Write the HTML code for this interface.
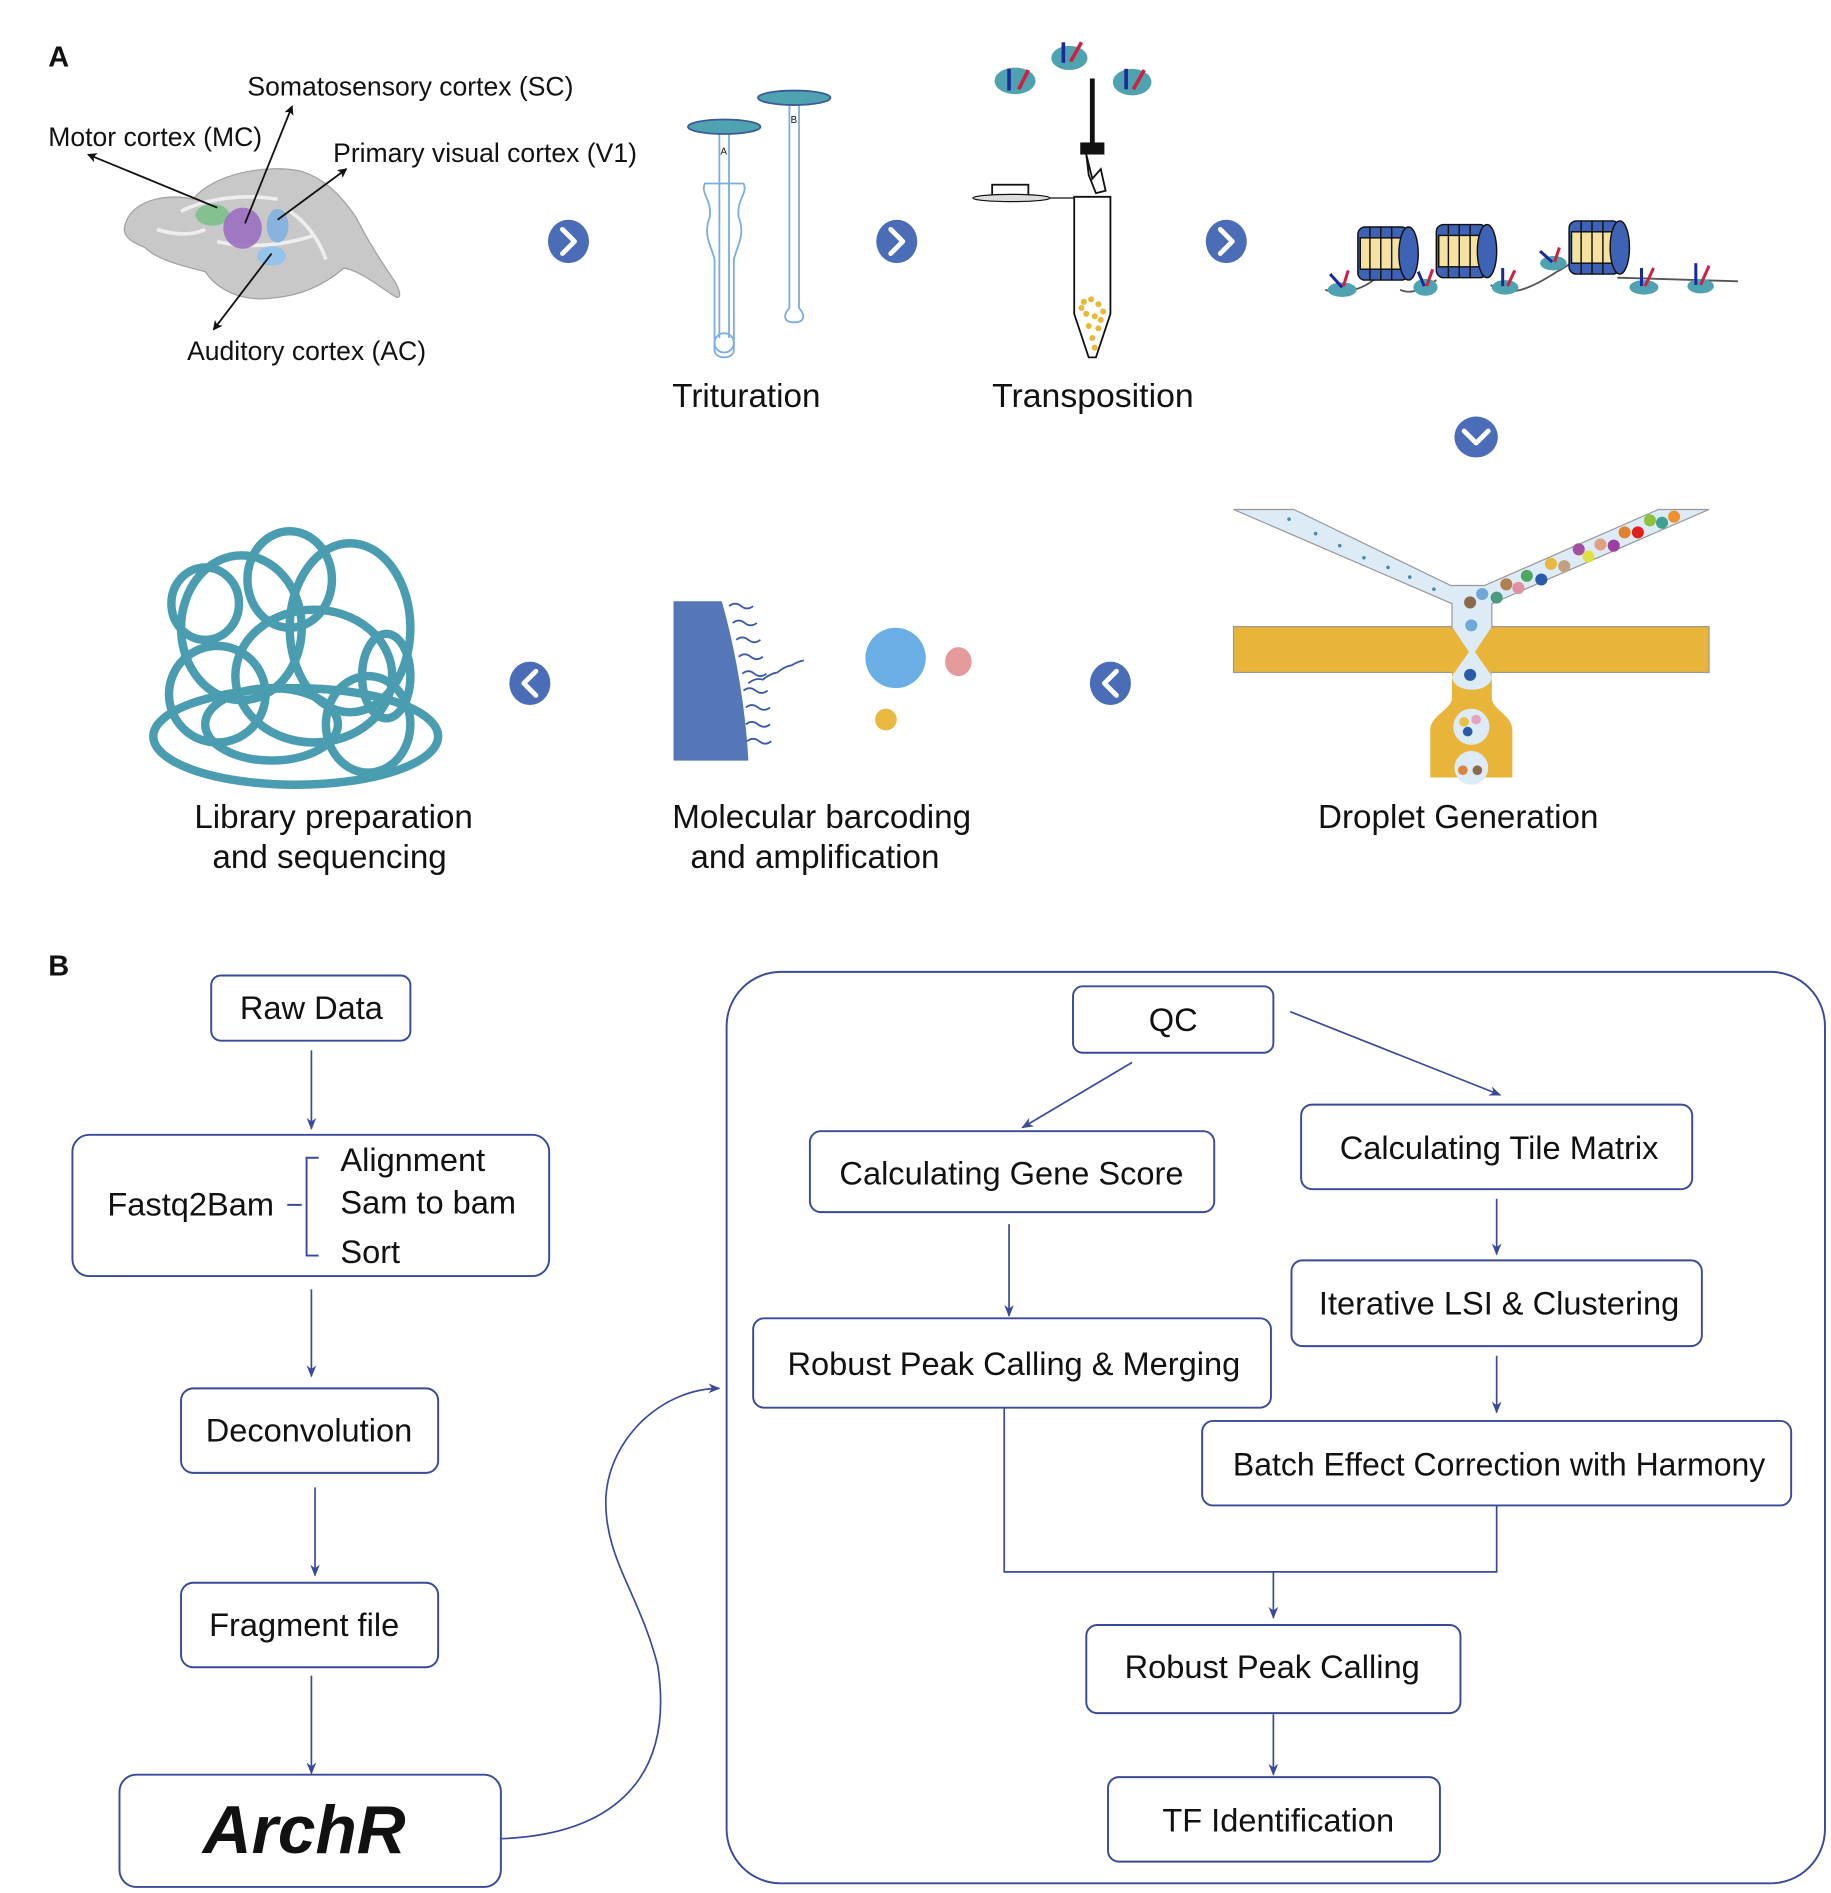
<!DOCTYPE html>
<html><head><meta charset="utf-8"><style>
html,body{margin:0;padding:0;background:#fff;}
svg{display:block;}
text{font-family:"Liberation Sans",Arial,sans-serif;fill:#111;}
</style></head><body>
<svg width="1831" height="1893" viewBox="0 0 1517 1568" preserveAspectRatio="none" xmlns="http://www.w3.org/2000/svg">
<defs>
<marker id="ab" markerWidth="8" markerHeight="8" refX="7" refY="4" orient="auto" markerUnits="userSpaceOnUse"><path d="M0,0 L8,4 L0,8 L2,4 z" fill="#111"/></marker>
<marker id="bl" markerWidth="10" markerHeight="8" refX="9" refY="4" orient="auto" markerUnits="userSpaceOnUse"><path d="M0,0 L10,4 L0,8 L3,4 z" fill="#3a4a9a"/></marker>
</defs>

<!-- ===== PART A ===== -->
<text x="40" y="55" font-size="24" font-weight="bold">A</text>

<path d="M104,185 C110,165 140,160 160,165 C175,145 220,135 250,142 C270,148 285,165 295,180 C305,200 315,215 325,230 C332,240 333,248 328,246 C315,238 300,225 285,222 C270,235 250,245 225,247 C200,250 180,240 170,225 C150,220 130,215 120,205 C108,200 100,195 104,185 Z" fill="#c8c8c8" stroke="#a0a0a0" stroke-width="1"/>
<path d="M150,175 C170,165 200,160 230,165 M180,200 C200,205 230,205 260,195 M240,175 C255,185 265,200 270,215 M130,190 C145,195 160,195 170,190" stroke="#eee" stroke-width="3" fill="none"/>
<ellipse cx="176" cy="178" rx="14" ry="9" fill="#7cbf8a" opacity="0.9"/>
<ellipse cx="201" cy="189" rx="16" ry="17" fill="#9b6fc0" opacity="0.9"/>
<ellipse cx="230" cy="187" rx="9" ry="14" fill="#7fb0e0" opacity="0.9"/>
<ellipse cx="225" cy="212" rx="12" ry="8" fill="#8ec3ee" opacity="0.9"/>
<g stroke="#111" stroke-width="1.5" fill="none">
<line x1="180" y1="172" x2="73" y2="128" marker-end="url(#ab)"/>
<line x1="203" y1="185" x2="242" y2="88" marker-end="url(#ab)"/>
<line x1="230" y1="182" x2="287" y2="140" marker-end="url(#ab)"/>
<line x1="225" y1="210" x2="177" y2="273" marker-end="url(#ab)"/>
</g>
<text x="205" y="79" font-size="22">Somatosensory cortex (SC)</text>
<text x="40" y="121" font-size="22">Motor cortex (MC)</text>
<text x="276" y="134" font-size="22">Primary visual cortex (V1)</text>
<text x="155" y="298" font-size="22">Auditory cortex (AC)</text>

<g fill="#4b6cb7">
<ellipse cx="471" cy="200" rx="17" ry="18"/><ellipse cx="743" cy="200" rx="17" ry="18"/><ellipse cx="1016" cy="200" rx="17" ry="18"/>
<ellipse cx="1223" cy="362" rx="18" ry="17"/><ellipse cx="439" cy="566" rx="17" ry="18"/><ellipse cx="920" cy="566" rx="17" ry="18"/>
</g>
<g stroke="#fff" stroke-width="4" fill="none" stroke-linecap="round" stroke-linejoin="round">
<path d="M466,190 L476,200 L466,210"/><path d="M738,190 L748,200 L738,210"/><path d="M1011,190 L1021,200 L1011,210"/>
<path d="M1213,357 L1223,367 L1233,357"/><path d="M444,556 L434,566 L444,576"/><path d="M925,556 L915,566 L925,576"/>
</g>

<g fill="none" stroke="#7aaee0" stroke-width="1.5">
<path d="M596,110 L596,280 M604,110 L604,280"/>
<path d="M584,152 C580,160 590,165 588,180 C582,195 590,205 592,215 L592,290 C592,298 608,298 608,290 L608,215 C610,205 618,195 612,180 C610,165 620,160 616,152 Z"/>
<ellipse cx="600" cy="284" rx="8" ry="8"/>
<path d="M654,85 L654,255 C648,262 650,267 658,267 C666,267 668,262 662,255 L662,85"/>
</g>
<ellipse cx="600" cy="105" rx="30" ry="6" fill="#4fa3b0" stroke="#3a5a9a" stroke-width="1.5"/>
<ellipse cx="658" cy="81" rx="30" ry="6" fill="#4fa3b0" stroke="#3a5a9a" stroke-width="1.5"/>
<text x="597" y="128" font-size="8" fill="#666">A</text><text x="655" y="102" font-size="8" fill="#666">B</text>
<text x="557" y="337" font-size="27.5">Trituration</text>

<g>
<ellipse cx="841" cy="67" rx="17" ry="11" fill="#4fa3b0"/><ellipse cx="886" cy="48" rx="15" ry="10" fill="#4fa3b0"/><ellipse cx="938" cy="68" rx="16" ry="11" fill="#4fa3b0"/>
<g stroke-width="3"><line x1="836" y1="57" x2="836" y2="75" stroke="#1a2a9a"/><line x1="844" y1="74" x2="852" y2="58" stroke="#d02040"/>
<line x1="881" y1="35" x2="881" y2="52" stroke="#1a2a9a"/><line x1="887" y1="51" x2="896" y2="35" stroke="#d02040"/>
<line x1="933" y1="57" x2="933" y2="74" stroke="#1a2a9a"/><line x1="939" y1="74" x2="948" y2="58" stroke="#d02040"/></g>
<line x1="905" y1="65" x2="905" y2="118" stroke="#111" stroke-width="4"/>
<rect x="895" y="118" width="20" height="10" fill="#111"/>
<path d="M900,128 L905,148 L912,140 L916,158 L908,160 L902,145 Z" fill="#fff" stroke="#111" stroke-width="1.5"/>
<rect x="822" y="153" width="30" height="10" fill="#fff" stroke="#111" stroke-width="1.5"/>
<ellipse cx="838" cy="164" rx="32" ry="3" fill="#ddd" stroke="#111"/>
<line x1="870" y1="164" x2="890" y2="164" stroke="#111"/>
<path d="M890,163 L920,163 L920,260 L908,296 L902,296 L890,260 Z" fill="#fff" stroke="#111" stroke-width="1.5"/>
<g fill="#e8b838">
<circle cx="898" cy="250" r="2.5"/><circle cx="904" cy="248" r="2.5"/><circle cx="910" cy="252" r="2.5"/><circle cx="914" cy="258" r="2.5"/><circle cx="900" cy="260" r="2.5"/><circle cx="907" cy="262" r="2.5"/><circle cx="902" cy="270" r="2.5"/><circle cx="910" cy="272" r="2.5"/><circle cx="905" cy="280" r="2.5"/><circle cx="907" cy="288" r="2.5"/><circle cx="896" cy="255" r="2.5"/><circle cx="912" cy="265" r="2.5"/>
</g>
</g>
<text x="822" y="337" font-size="28">Transposition</text>

<path d="M1098,240 C1110,245 1130,240 1140,230 M1160,240 C1170,245 1180,238 1190,232 M1235,236 C1250,248 1270,238 1290,225 C1300,220 1305,215 1310,210 M1340,230 L1440,233" stroke="#555" stroke-width="1.5" fill="none"/>
<g stroke="#111" stroke-width="1.2">
<g transform="translate(1125,182)"><rect x="0" y="6" width="42" height="44" rx="6" fill="#3e62b5"/><rect x="2" y="15" width="38" height="26" fill="#f5e2a0"/><ellipse cx="42" cy="28" rx="8" ry="22" fill="#3e62b5"/><path d="M10,6 L10,50 M19,6 L19,50 M28,6 L28,50" fill="none"/></g>
<g transform="translate(1190,180)"><rect x="0" y="6" width="42" height="44" rx="6" fill="#3e62b5"/><rect x="2" y="15" width="38" height="26" fill="#f5e2a0"/><ellipse cx="42" cy="28" rx="8" ry="22" fill="#3e62b5"/><path d="M10,6 L10,50 M19,6 L19,50 M28,6 L28,50" fill="none"/></g>
<g transform="translate(1300,177)"><rect x="0" y="6" width="42" height="44" rx="6" fill="#3e62b5"/><rect x="2" y="15" width="38" height="26" fill="#f5e2a0"/><ellipse cx="42" cy="28" rx="8" ry="22" fill="#3e62b5"/><path d="M10,6 L10,50 M19,6 L19,50 M28,6 L28,50" fill="none"/></g>
</g>
<g fill="#4fa3b0">
<ellipse cx="1112" cy="240" rx="12" ry="6"/><ellipse cx="1181" cy="238" rx="10" ry="7"/><ellipse cx="1247" cy="238" rx="11" ry="6"/><ellipse cx="1287" cy="218" rx="11" ry="6"/><ellipse cx="1362" cy="238" rx="12" ry="6"/><ellipse cx="1409" cy="237" rx="11" ry="6"/>
</g>
<g stroke-width="2.5">
<line x1="1102" y1="227" x2="1112" y2="238" stroke="#1a2a9a"/><line x1="1113" y1="237" x2="1117" y2="224" stroke="#d02040"/>
<line x1="1175" y1="225" x2="1180" y2="237" stroke="#1a2a9a"/><line x1="1182" y1="237" x2="1187" y2="223" stroke="#d02040"/>
<line x1="1245" y1="222" x2="1245" y2="237" stroke="#1a2a9a"/><line x1="1249" y1="237" x2="1255" y2="224" stroke="#d02040"/>
<line x1="1276" y1="208" x2="1286" y2="217" stroke="#1a2a9a"/><line x1="1288" y1="217" x2="1292" y2="205" stroke="#d02040"/>
<line x1="1360" y1="222" x2="1360" y2="237" stroke="#1a2a9a"/><line x1="1363" y1="237" x2="1370" y2="222" stroke="#d02040"/>
<line x1="1405" y1="218" x2="1405" y2="236" stroke="#1a2a9a"/><line x1="1409" y1="236" x2="1416" y2="220" stroke="#d02040"/>
</g>

<!-- droplet generation -->
<rect x="1022" y="519" width="394" height="38" fill="#e8b43a" stroke="#999" stroke-width="1"/>
<path d="M1203,556 L1236,556 L1236,578 C1236,588 1253,592 1253,605 L1253,644 L1185,644 L1185,605 C1185,592 1203,588 1203,578 Z" fill="#e8b43a"/>
<path d="M1022,422 L1072,422 L1202,485 L1230,485 L1374,422 L1416,422 L1236,500 L1236,520 L1203,520 L1203,500 Z" fill="#dcebf5" stroke="#999" stroke-width="1"/>
<path d="M1203,519 L1236,519 L1222,540 L1236,560 C1236,575 1203,575 1203,560 L1217,540 Z" fill="#dcebf5"/>
<circle cx="1219" cy="602" r="15" fill="#dcebf5"/><circle cx="1219" cy="636" r="14" fill="#dcebf5"/>
<g>
<circle cx="1218" cy="499" r="5" fill="#8b6a4a"/><circle cx="1219" cy="518" r="5" fill="#6fa8d8"/><circle cx="1218" cy="559" r="5" fill="#2a5aa8"/>
<circle cx="1213" cy="598" r="4" fill="#e8c040"/><circle cx="1223" cy="596" r="4" fill="#e8a0c0"/><circle cx="1216" cy="606" r="4" fill="#2a5aa8"/>
<circle cx="1212" cy="638" r="4" fill="#e08040"/><circle cx="1224" cy="638" r="4" fill="#8b6a4a"/>
<circle cx="1228" cy="492" r="5" fill="#6fa8d8"/><circle cx="1240" cy="495" r="5" fill="#4a9a80"/><circle cx="1248" cy="484" r="5" fill="#b08050"/><circle cx="1258" cy="487" r="5" fill="#e090a0"/><circle cx="1265" cy="477" r="5" fill="#50a860"/><circle cx="1277" cy="480" r="5" fill="#2a5aa8"/><circle cx="1285" cy="467" r="5" fill="#e8b840"/><circle cx="1296" cy="469" r="5" fill="#c0a080"/><circle cx="1308" cy="455" r="5" fill="#a050a0"/><circle cx="1316" cy="461" r="5" fill="#e0e040"/><circle cx="1326" cy="451" r="5" fill="#e0a080"/><circle cx="1337" cy="452" r="5" fill="#9a40a0"/><circle cx="1346" cy="441" r="5" fill="#e08030"/><circle cx="1357" cy="441" r="5" fill="#e02020"/><circle cx="1367" cy="431" r="5" fill="#90c040"/><circle cx="1377" cy="433" r="5" fill="#40a090"/><circle cx="1387" cy="428" r="5" fill="#f09030"/>
<g fill="#4a8ab0"><circle cx="1068" cy="430" r="1.5"/><circle cx="1090" cy="442" r="1.5"/><circle cx="1110" cy="452" r="1.5"/><circle cx="1130" cy="462" r="1.5"/><circle cx="1150" cy="470" r="1.5"/><circle cx="1168" cy="478" r="1.5"/><circle cx="1188" cy="488" r="1.5"/></g>
</g>
<text x="1092" y="686" font-size="27.5">Droplet Generation</text>

<path d="M558,498 L598,498 C610,540 618,590 620,630 L558,630 Z" fill="#5577b8"/>
<g stroke="#3a5aa8" stroke-width="1.5" fill="none">
<path d="M604,502 q5,-4 10,0 q5,4 10,0"/><path d="M607,516 q5,-4 10,0 q5,4 10,0"/><path d="M610,530 q5,-4 10,0 q5,4 10,0"/><path d="M612,544 q5,-4 10,0 q5,4 10,0"/><path d="M615,558 q5,-4 10,0 q5,4 10,0"/><path d="M616,572 q5,-4 10,0 q5,4 10,0"/><path d="M618,586 q5,-4 10,0 q5,4 10,0"/><path d="M618,600 q5,-4 10,0 q5,4 10,0"/><path d="M619,614 q5,-4 10,0 q5,4 10,0"/>
<path d="M620,566 q6,-5 12,-3 q6,-5 12,-6 q6,-5 12,-6 q5,-3 10,-4"/>
</g>
<circle cx="742" cy="545" r="25" fill="#6aaee6"/>
<ellipse cx="794" cy="548" rx="11" ry="12" fill="#e08a8a" opacity="0.85"/>
<circle cx="734" cy="596" r="9" fill="#e8b840"/>
<text x="557" y="686" font-size="27.5">Molecular barcoding</text>
<text x="572" y="719" font-size="27.5">and amplification</text>

<g stroke="#4a9db0" stroke-width="7" fill="none">
<ellipse cx="245" cy="610" rx="118" ry="40"/>
<ellipse cx="240" cy="480" rx="35" ry="40"/>
<ellipse cx="200" cy="520" rx="50" ry="60"/>
<ellipse cx="290" cy="520" rx="50" ry="70"/>
<ellipse cx="180" cy="575" rx="40" ry="40"/>
<ellipse cx="260" cy="560" rx="65" ry="55"/>
<ellipse cx="305" cy="600" rx="35" ry="40"/>
<ellipse cx="225" cy="600" rx="55" ry="30"/>
<ellipse cx="170" cy="500" rx="28" ry="30"/>
<ellipse cx="320" cy="560" rx="20" ry="35"/>
</g>
<text x="161" y="686" font-size="27.5">Library preparation</text>
<text x="176" y="719" font-size="27.5">and sequencing</text>

<!-- ===== PART B ===== -->
<text x="40" y="808" font-size="24" font-weight="bold">B</text>
<g fill="none" stroke="#3a4a9a" stroke-width="1.6">
<rect x="175" y="808" width="165" height="54" rx="8"/>
<rect x="60" y="940" width="395" height="117" rx="14"/>
<rect x="150" y="1150" width="213" height="70" rx="10"/>
<rect x="150" y="1311" width="213" height="70" rx="10"/>
<rect x="99" y="1470" width="316" height="93" rx="14"/>
<rect x="602" y="805" width="910" height="755" rx="45"/>
<rect x="889" y="817" width="166" height="55" rx="8"/>
<rect x="671" y="937" width="335" height="67" rx="9"/>
<rect x="1078" y="915" width="324" height="70" rx="9"/>
<rect x="624" y="1092" width="429" height="74" rx="9"/>
<rect x="1070" y="1044" width="340" height="71" rx="9"/>
<rect x="996" y="1177" width="488" height="70" rx="9"/>
<rect x="900" y="1346" width="310" height="73" rx="9"/>
<rect x="918" y="1472" width="275" height="70" rx="9"/>
<path d="M238,998 L250,998 M264,959 L254,959 L254,1040 L264,1040"/>
</g>
<g stroke="#3a4a9a" stroke-width="1.4" fill="none" marker-end="url(#bl)">
<line x1="258" y1="870" x2="258" y2="935"/>
<line x1="258" y1="1068" x2="258" y2="1140"/>
<line x1="261" y1="1232" x2="261" y2="1305"/>
<line x1="258" y1="1388" x2="258" y2="1469"/>
<line x1="938" y1="880" x2="847" y2="934"/>
<line x1="1069" y1="838" x2="1243" y2="907"/>
<line x1="836" y1="1014" x2="836" y2="1090"/>
<line x1="1240" y1="993" x2="1240" y2="1039"/>
<line x1="1240" y1="1123" x2="1240" y2="1170"/>
<line x1="1055" y1="1302" x2="1055" y2="1340"/>
<line x1="1055" y1="1420" x2="1055" y2="1470"/>
<path d="M415,1523 C500,1520 560,1480 545,1380 C530,1320 500,1290 502,1240 C505,1190 550,1150 596,1150"/>
</g>
<path d="M832,1166 L832,1302 L1240,1302 L1240,1247" stroke="#3a4a9a" stroke-width="1.4" fill="none"/>

<g font-size="27" text-anchor="middle">
<text x="258" y="844">Raw  Data</text>
<text x="158" y="1007">Fastq2Bam</text>
<text x="256" y="1194">Deconvolution</text>
<text x="252" y="1355">Fragment file</text>
<text x="972" y="854">QC</text>
<text x="838" y="981">Calculating Gene Score</text>
<text x="1242" y="960">Calculating  Tile Matrix</text>
<text x="840" y="1139">Robust  Peak Calling &amp; Merging</text>
<text x="1242" y="1089">Iterative LSI &amp; Clustering</text>
<text x="1242" y="1222" font-size="26.5">Batch Effect Correction  with Harmony</text>
<text x="1054" y="1390">Robust  Peak Calling</text>
<text x="1059" y="1517">TF Identification</text>
</g>
<g font-size="27">
<text x="282" y="970">Alignment</text>
<text x="282" y="1005">Sam to bam</text>
<text x="282" y="1046">Sort</text>
</g>
<text x="252" y="1535" font-size="56" font-weight="bold" font-style="italic" text-anchor="middle">ArchR</text>
</svg>
</body></html>
